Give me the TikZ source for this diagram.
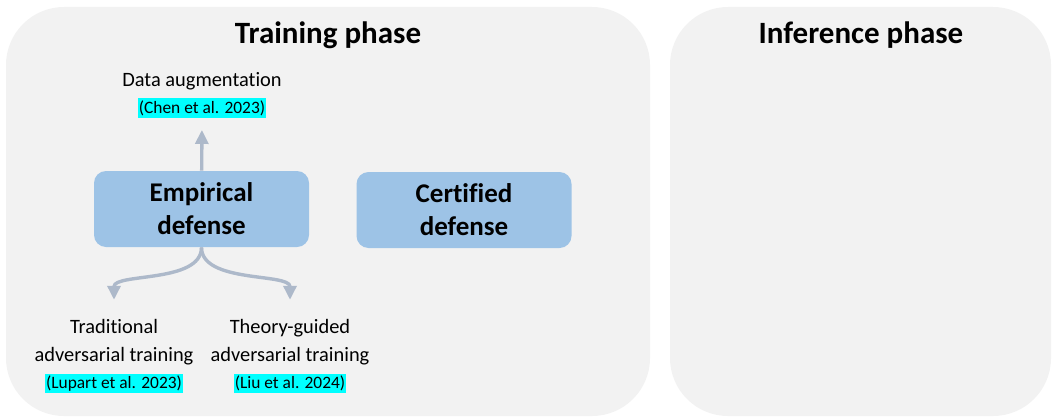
\documentclass[tikz,border=0pt]{standalone}
\usepackage{fontspec}
\setmainfont[Ligatures=NoCommon]{Carlito}
\usetikzlibrary{positioning, arrows.meta}
\definecolor{panelgray}{HTML}{F2F2F2}
\definecolor{boxblue}{HTML}{9DC3E6}
\definecolor{arrgray}{HTML}{ADB9CA}
\definecolor{hlcyan}{HTML}{00FFFF}

\begin{document}
\begin{tikzpicture}[
  x=0.5pt, y=-0.5pt,
  phase/.style={fill=panelgray, rounded corners=29pt},
  title/.style={font=\fontsize{15.5}{18}\selectfont\bfseries},
  defense/.style={
    rectangle, rounded corners=6pt, fill=boxblue,
    minimum width=107.5pt, minimum height=38pt, align=center,
    font=\fontsize{13.5}{16.5}\selectfont\bfseries
  },
  leaf/.style={align=center, inner sep=0pt, font=\fontsize{10.2}{14}\selectfont},
  cite/.style={fill=hlcyan, inner xsep=0.5pt, inner ysep=1pt,
    font=\fontsize{8.7}{10}\selectfont},
  arr/.style={-{Triangle[length=7pt, width=6.5pt]}, line width=1.7pt, color=arrgray},
]
\useasboundingbox (0,0) rectangle (1052,417);

% Phases
\fill[phase] (6,7) rectangle (650,416);
\fill[phase] (670,7) rectangle (1051,416);
\node[title] (train) at (328,35) {Training phase};
\node[title] (infer) at (861,35) {Inference phase};

% Defense families
\node[defense] (emp) at (201.5,209) {Empirical\\defense};
\node[defense] (cert) at (464,210) {Certified\\defense};

% Data augmentation
\node[cite] (chen) at (202,108) {(Chen et al. 2023)};
\node[leaf, above=4pt of chen] (aug) {Data augmentation};

% Adversarial training
\node[leaf] (trad) at (114,342) {Traditional\\adversarial training};
\node[cite, below=4pt of trad] (lupart) {(Lupart et al. 2023)};
\node[leaf] (theory) at (290,342) {Theory-guided\\adversarial training};
\node[cite, below=4pt of theory] (liu) {(Liu et al. 2024)};

% Arrows
\draw[arr, shorten >=6pt] (emp) -- (chen);
\draw[arr, shorten >=9.5pt] (emp.south) .. controls +(0,36) and +(0,-46) .. (trad.north);
\draw[arr, shorten >=9.5pt] (emp.south) .. controls +(0,36) and +(0,-46) .. (theory.north);

\end{tikzpicture}
\end{document}
